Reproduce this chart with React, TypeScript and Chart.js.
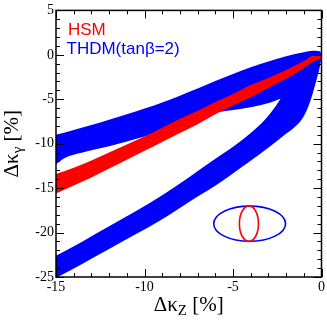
import React, { useEffect, useRef } from "react";
import { Chart, registerables } from "chart.js";

Chart.register(...registerables);

// ---- data ----
const X_MIN = -15;
const X_MAX = 0;
const Y_MIN = -25;
const Y_MAX = 5;
const MAJOR_STEP = 5;
const MINOR_STEP = 1;

const SERIES_HSM = "HSM";
const SERIES_THDM = "THDM(tanβ=2)";

// HSM band (red)
const hsmX = [-15, -14, -13, -12, -11, -10, -9, -8, -7, -6, -5, -4, -3, -2, -1, -0.5, 0];
const hsmTop = [-13.4, -12.7, -11.9, -11.0, -10.1, -9.2, -8.2, -7.2, -6.3, -5.3, -4.4, -3.4, -2.6, -1.7, -0.7, -0.1, 0.0];
const hsmBottom = [-15.6, -14.7, -13.8, -12.8, -11.8, -10.8, -9.8, -8.8, -7.8, -6.7, -5.7, -4.8, -3.7, -2.7, -1.5, -0.8, -0.4];

// THDM region (blue): outer envelope
const thdmTopX = [-15, -14, -13, -12, -11, -10, -9, -8, -7, -6, -5, -4, -3, -2, -1, -0.5, -0.1, 0];
const thdmTopY = [-9.0, -8.45, -7.9, -7.3, -6.7, -6.05, -5.35, -4.6, -3.8, -2.95, -2.15, -1.4, -0.75, -0.15, 0.3, 0.45, 0.4, 0.1];
const thdmBottomX = [-15, -13.5, -12, -10.5, -9, -7.44, -5.94, -4.62, -3.5, -2.18, -1.5, -1.0, -0.65, -0.35, -0.1, 0];
const thdmBottomY = [-25.1, -23.5, -21.85, -20.2, -18.5, -16.5, -14.66, -12.8, -11.2, -9.15, -8.1, -6.9, -5.3, -3.3, -1.4, -0.3];

// THDM region: inner gap between the two branches
const gapTopX = [-15, -14.5, -13.5, -12, -10, -8, -7.4, -6, -5, -4, -2.93, -2.3];
const gapTopY = [-12.3, -11.6, -11.0, -10.3, -9.2, -7.9, -7.1, -6.5, -6.2, -5.9, -5.4, -4.9];
const gapBottomX = [-15, -13.5, -12, -10.5, -9, -7.5, -6, -4.9, -4.0, -3.2, -2.6, -2.3];
const gapBottomY = [-22.6, -21.0, -19.3, -17.6, -15.8, -13.8, -11.7, -10.2, -8.8, -7.3, -5.8, -4.9];

// legend ellipses (data coordinates)
const ELLIPSE_BLUE = { cx: -4.06, cy: -19.0, rx: 2.03, ry: 1.98 };
const ELLIPSE_RED = { cx: -4.1, cy: -19.0, rx: 0.54, ry: 2.0 };

const BLUE = "#0000ff";
const RED = "#ff0000";

const zip = (xs: number[], ys: number[]) => xs.map((x, i) => ({ x, y: ys[i] }));

const SERIF = "'Liberation Serif', 'DejaVu Serif', serif";
const SANS = "'Liberation Sans', Arial, sans-serif";

const decorPlugin = {
  id: "decor",
  afterDatasetsDraw(chart: any) {
    const { ctx, chartArea: a, scales } = chart;
    const xs = scales.x;
    const ys = scales.y;
    ctx.save();
    // legend ellipses
    ctx.lineWidth = 1.6;
    const drawEllipse = (e: any, color: string) => {
      const cx = xs.getPixelForValue(e.cx);
      const cy = ys.getPixelForValue(e.cy);
      const rx = Math.abs(xs.getPixelForValue(e.cx + e.rx) - cx);
      const ry = Math.abs(ys.getPixelForValue(e.cy + e.ry) - cy);
      ctx.beginPath();
      ctx.ellipse(cx, cy, rx, ry, 0, 0, Math.PI * 2);
      ctx.strokeStyle = color;
      ctx.stroke();
    };
    drawEllipse(ELLIPSE_BLUE, BLUE);
    drawEllipse(ELLIPSE_RED, RED);

    // frame
    ctx.strokeStyle = "#000";
    ctx.lineWidth = 1.5;
    ctx.strokeRect(a.left, a.top, a.right - a.left, a.bottom - a.top);
    // ticks (inward, mirrored)
    ctx.lineWidth = 1;
    ctx.beginPath();
    for (let v = X_MIN; v <= X_MAX + 1e-9; v += MINOR_STEP) {
      const len = Math.abs(v % MAJOR_STEP) < 1e-9 ? 8 : 4;
      const px = Math.round(xs.getPixelForValue(v)) + 0.5;
      ctx.moveTo(px, a.bottom);
      ctx.lineTo(px, a.bottom - len);
      ctx.moveTo(px, a.top);
      ctx.lineTo(px, a.top + len);
    }
    for (let v = Y_MIN; v <= Y_MAX + 1e-9; v += MINOR_STEP) {
      const len = Math.abs(v % MAJOR_STEP) < 1e-9 ? 8 : 4;
      const py = Math.round(ys.getPixelForValue(v)) + 0.5;
      ctx.moveTo(a.left, py);
      ctx.lineTo(a.left + len, py);
      ctx.moveTo(a.right, py);
      ctx.lineTo(a.right - len, py);
    }
    ctx.stroke();

    // legend texts
    ctx.font = `17px ${SANS}`;
    ctx.textBaseline = "alphabetic";
    ctx.textAlign = "left";
    ctx.fillStyle = RED;
    ctx.fillText(SERIES_HSM, a.left + 12, a.top + 24.5);
    ctx.fillStyle = BLUE;
    ctx.fillText(SERIES_THDM, a.left + 10.5, a.top + 44);

    // axis titles
    const drawTitle = (main: string, sub: string, tail: string) => {
      ctx.font = `21px ${SERIF}`;
      const w1 = ctx.measureText(main).width;
      const w3 = ctx.measureText(tail).width;
      ctx.font = `15px ${SERIF}`;
      const w2 = ctx.measureText(sub).width;
      const total = w1 + w2 + w3;
      let x0 = -total / 2;
      ctx.font = `21px ${SERIF}`;
      ctx.fillText(main, x0, 0);
      x0 += w1;
      ctx.font = `15px ${SERIF}`;
      ctx.fillText(sub, x0, 4);
      x0 += w2;
      ctx.font = `21px ${SERIF}`;
      ctx.fillText(tail, x0, 0);
    };
    ctx.fillStyle = "#000";
    ctx.save();
    ctx.translate((a.left + a.right) / 2, 311);
    drawTitle("Δκ", "Z", " [%]");
    ctx.restore();
    ctx.save();
    ctx.translate(18, (a.top + a.bottom) / 2);
    ctx.rotate(-Math.PI / 2);
    drawTitle("Δκ", "γ", " [%]");
    ctx.restore();

    ctx.restore();
  },
};

export default function App() {
  const ref = useRef<HTMLCanvasElement | null>(null);
  useEffect(() => {
    if (!ref.current) return;
    const common = {
      borderWidth: 0,
      borderColor: "rgba(0,0,0,0)",
      pointRadius: 0,
      cubicInterpolationMode: "monotone",
    };
    const chart = new Chart(ref.current, {
      type: "line",
      data: {
        datasets: [
          { ...common, label: SERIES_HSM + " top", data: zip(hsmX, hsmTop), fill: false },
          { ...common, label: SERIES_HSM, data: zip(hsmX, hsmBottom), fill: "-1", backgroundColor: RED },
          { ...common, label: "gap top", data: zip(gapTopX, gapTopY), fill: false },
          { ...common, label: "gap", data: zip(gapBottomX, gapBottomY), fill: "-1", backgroundColor: "#ffffff" },
          { ...common, label: SERIES_THDM + " top", data: zip(thdmTopX, thdmTopY), fill: false },
          { ...common, label: SERIES_THDM, data: zip(thdmBottomX, thdmBottomY), fill: "-1", backgroundColor: BLUE },
        ] as any,
      },
      options: {
        animation: false,
        responsive: false,
        devicePixelRatio: 1,
        layout: { padding: { top: 5, right: 5, left: 0, bottom: 0 } },
        plugins: { legend: { display: false }, tooltip: { enabled: false } },
        scales: {
          x: {
            type: "linear",
            min: X_MIN,
            max: X_MAX,
            grid: { display: false, drawTicks: false },
            border: { display: false },
            ticks: { stepSize: MAJOR_STEP, color: "#000", font: { family: SERIF, size: 14 }, padding: 2, maxRotation: 0 },
            afterFit: (s: any) => { s.height = 43; },
          },
          y: {
            type: "linear",
            min: Y_MIN,
            max: Y_MAX,
            grid: { display: false, drawTicks: false },
            border: { display: false },
            ticks: { stepSize: MAJOR_STEP, color: "#000", font: { family: SERIF, size: 14 }, padding: 2 },
            afterFit: (s: any) => { s.width = 56; },
          },
        },
      } as any,
      plugins: [decorPlugin],
    });
    return () => chart.destroy();
  }, []);
  return (
    <div style={{ position: "absolute", left: 0, top: 0, width: 327, height: 320, background: "#fff" }}>
      <canvas ref={ref} width={327} height={320} />
    </div>
  );
}
